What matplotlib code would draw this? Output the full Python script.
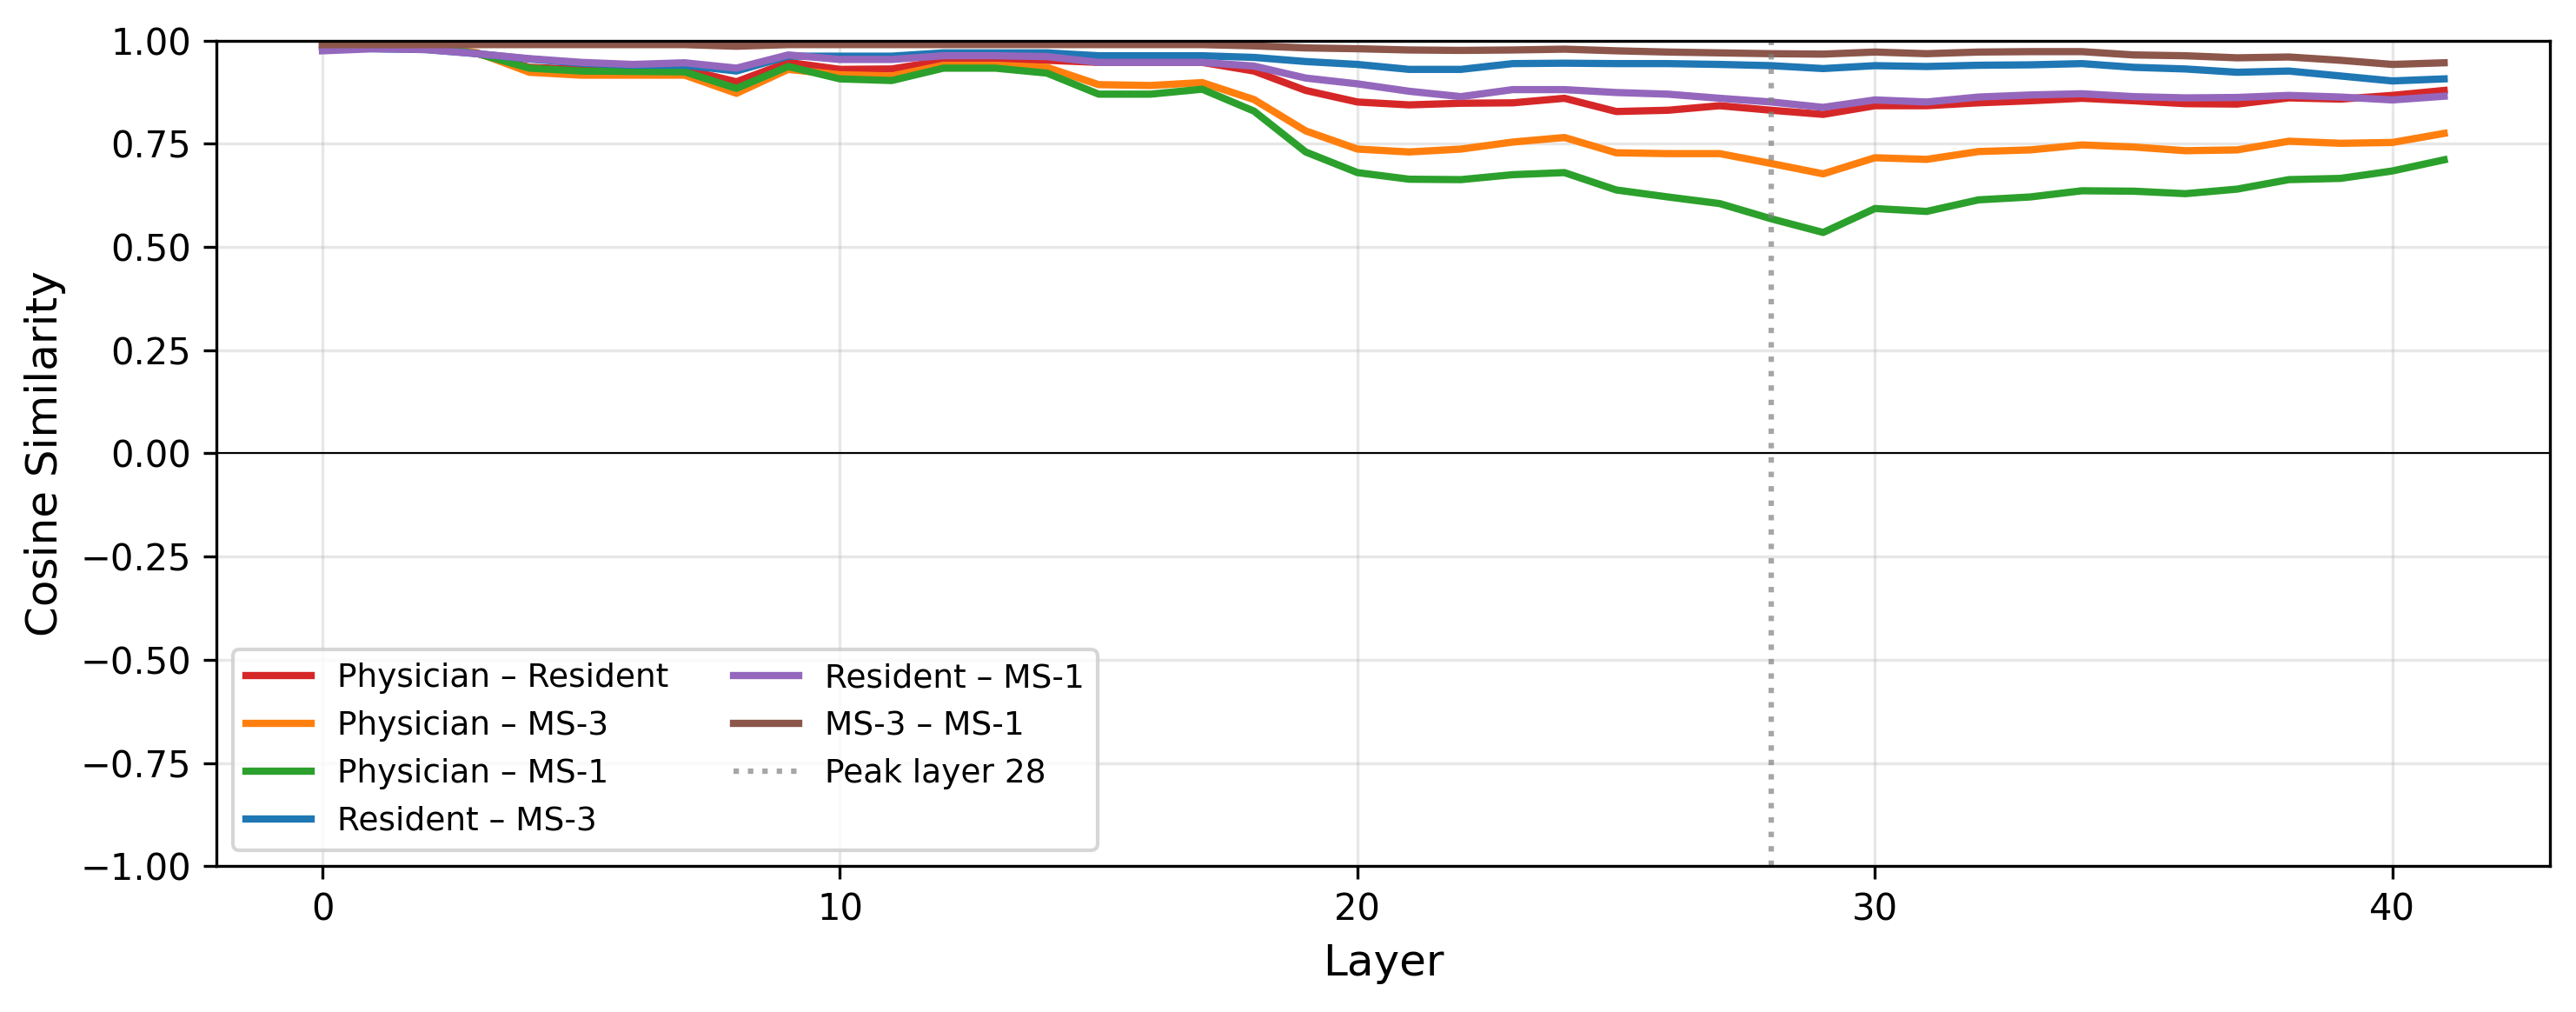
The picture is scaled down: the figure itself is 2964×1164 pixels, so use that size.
import matplotlib
matplotlib.use("Agg")
import matplotlib.pyplot as plt

# Cosine similarity between groups, per layer
layers = list(range(42))

phys_res = [0.990, 0.990, 0.985, 0.968, 0.935, 0.930, 0.930, 0.930, 0.900, 0.947,
            0.930, 0.931, 0.951, 0.951, 0.952, 0.947, 0.947, 0.947, 0.926, 0.879,
            0.851, 0.844, 0.848, 0.849, 0.860, 0.828, 0.831, 0.842, 0.831, 0.821,
            0.842, 0.842, 0.849, 0.854, 0.860, 0.854, 0.847, 0.846, 0.861, 0.858,
            0.867, 0.879]
phys_ms3 = [0.990, 0.990, 0.988, 0.970, 0.923, 0.916, 0.916, 0.916, 0.872, 0.930,
            0.917, 0.914, 0.940, 0.940, 0.935, 0.893, 0.891, 0.898, 0.857, 0.781,
            0.737, 0.730, 0.737, 0.754, 0.765, 0.728, 0.726, 0.726, 0.702, 0.677,
            0.716, 0.712, 0.731, 0.735, 0.747, 0.742, 0.733, 0.735, 0.756, 0.751,
            0.753, 0.775]
phys_ms1 = [0.990, 0.990, 0.986, 0.968, 0.933, 0.926, 0.925, 0.924, 0.884, 0.937,
            0.907, 0.903, 0.933, 0.933, 0.921, 0.870, 0.870, 0.882, 0.829, 0.730,
            0.680, 0.664, 0.663, 0.675, 0.680, 0.638, 0.621, 0.605, 0.568, 0.535,
            0.593, 0.586, 0.614, 0.621, 0.636, 0.635, 0.629, 0.640, 0.663, 0.666,
            0.684, 0.711]
res_ms3 = [0.985, 0.980, 0.978, 0.968, 0.955, 0.945, 0.940, 0.940, 0.926, 0.962,
           0.962, 0.962, 0.970, 0.970, 0.970, 0.963, 0.963, 0.963, 0.959, 0.949,
           0.942, 0.930, 0.930, 0.944, 0.945, 0.944, 0.944, 0.942, 0.939, 0.932,
           0.939, 0.937, 0.940, 0.941, 0.944, 0.935, 0.931, 0.923, 0.926, 0.914,
           0.902, 0.907]
res_ms1 = [0.975, 0.980, 0.978, 0.968, 0.956, 0.947, 0.942, 0.946, 0.933, 0.965,
           0.954, 0.954, 0.963, 0.963, 0.961, 0.947, 0.947, 0.947, 0.938, 0.909,
           0.895, 0.877, 0.864, 0.881, 0.881, 0.874, 0.870, 0.860, 0.851, 0.838,
           0.856, 0.851, 0.863, 0.868, 0.871, 0.864, 0.861, 0.862, 0.867, 0.863,
           0.856, 0.865]
ms3_ms1 = [0.990, 0.990, 0.990, 0.990, 0.990, 0.990, 0.990, 0.990, 0.986, 0.990,
           0.990, 0.990, 0.990, 0.990, 0.990, 0.990, 0.990, 0.990, 0.987, 0.982,
           0.980, 0.977, 0.976, 0.977, 0.979, 0.975, 0.972, 0.970, 0.968, 0.967,
           0.972, 0.968, 0.972, 0.973, 0.973, 0.965, 0.963, 0.958, 0.960, 0.952,
           0.942, 0.946]

series = [
    ("Physician \u2013 Resident", phys_res, "#d62728"),
    ("Physician \u2013 MS-3", phys_ms3, "#ff7f0e"),
    ("Physician \u2013 MS-1", phys_ms1, "#2ca02c"),
    ("Resident \u2013 MS-3", res_ms3, "#1f77b4"),
    ("Resident \u2013 MS-1", res_ms1, "#9467bd"),
    ("MS-3 \u2013 MS-1", ms3_ms1, "#8c564b"),
]
peak_layer = 28

fig, ax = plt.subplots(figsize=(9.88, 3.88), dpi=300)
fig.subplots_adjust(left=0.084, right=0.990, top=0.960, bottom=0.144)

for name, vals, col in series:
    ax.plot(layers, vals, color=col, linewidth=2, label=name)

ax.axvline(peak_layer, color="gray", linestyle=":", linewidth=1.5, alpha=0.7,
           label=f"Peak layer {peak_layer}")
ax.axhline(0, color="black", linewidth=0.5)

ax.set_ylim(-1, 1)
ax.set_xlabel("Layer", fontsize=12)
ax.set_ylabel("Cosine Similarity", fontsize=12)
ax.grid(True, alpha=0.3)
ax.legend(loc="lower left", ncol=2, fontsize=9)

fig.savefig("out.png", dpi=300)
